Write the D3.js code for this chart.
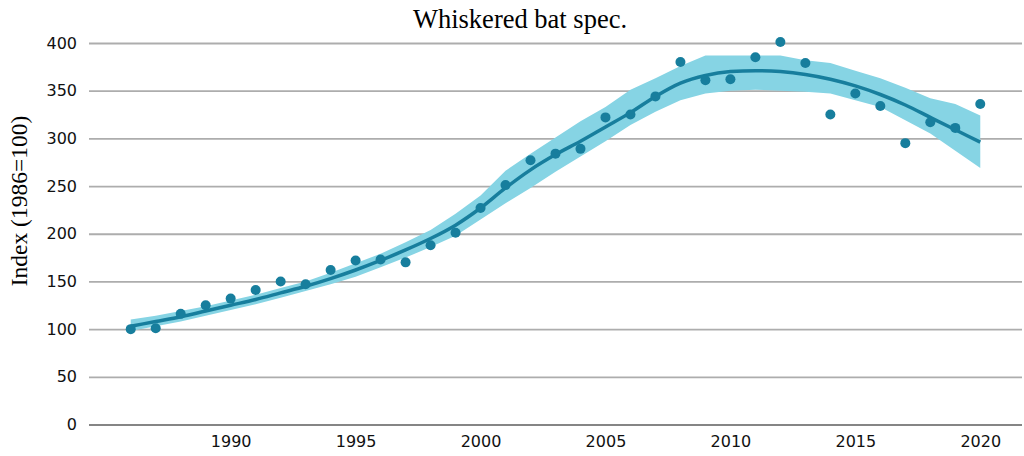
<!DOCTYPE html>
<html>
<head>
<meta charset="utf-8">
<script src="https://cdn.jsdelivr.net/npm/d3@7"></script>
<style>
  body { margin: 0; background: #fff; }
  svg { display: block; }
</style>
</head>
<body>
<div id="chart"></div>
<script>
// observed index per year
const years = d3.range(1986, 2021);
const observed = [100, 101, 116, 125, 132, 141, 150, 147, 162, 172, 173, 170, 188, 201, 227,
  251, 277, 284, 289, 322, 325, 344, 380, 361, 362, 385, 401, 379, 325, 347, 334, 295, 317, 311, 336];
// smoothed trend and its confidence band
const trend = [103, 108, 113, 119, 125, 131, 138, 145, 153, 162, 172, 183, 195, 209, 227,
  248, 267, 283, 297, 312, 327, 344, 358, 366, 370, 371, 370, 367, 362, 355, 346, 335, 322, 309, 296];
const upper = [110, 114, 119, 124, 130, 136, 143, 150, 159, 169, 179, 191, 204, 221, 240,
  266, 284, 301, 318, 333, 351, 363, 376, 387, 387, 387, 387, 382, 379, 371, 363, 353, 342, 336, 324];
const lower = [98, 103, 108, 114, 120, 126, 133, 140, 147, 155, 165, 175, 186, 198, 215,
  232, 248, 265, 281, 297, 314, 328, 340, 347, 350, 351, 350, 349, 347, 340, 333, 319, 305, 287, 269];
const yTicks = [0, 50, 100, 150, 200, 250, 300, 350, 400];
const xTicks = [1990, 1995, 2000, 2005, 2010, 2015, 2020];

const width = 1024, height = 456;
const marginLeft = 89, marginRight = 2, marginTop = 43, marginBottom = 31;

const rows = years.map((yr, i) => ({
  year: yr, obs: observed[i], trend: trend[i], lo: lower[i], hi: upper[i]
}));

const x = d3.scaleLinear()
  .domain([1984.33, 2021.67])
  .range([marginLeft, width - marginRight]);

const y = d3.scaleLinear()
  .domain([0, 400])
  .range([height - marginBottom - 0.5, marginTop]);

const svg = d3.select("#chart").append("svg")
  .attr("width", width)
  .attr("height", height)
  .attr("viewBox", [0, 0, width, height]);

// grid lines + y labels
const yAxis = svg.append("g")
  .attr("transform", `translate(${marginLeft},0)`)
  .call(d3.axisLeft(y).tickValues(yTicks).tickSize(0).tickPadding(12))
  .call(g => g.select(".domain").remove())
  .call(g => g.selectAll(".tick text")
      .attr("font-family", "DejaVu Sans, sans-serif")
      .attr("font-size", 16)
      .attr("fill", "#111"));

yAxis.selectAll(".tick line")
  .attr("x2", width - marginLeft - marginRight)
  .attr("stroke", d => d === 0 ? "#858585" : "#adadad")
  .attr("stroke-width", d => d === 0 ? 2.2 : 1.8);

// x labels
svg.append("g")
  .attr("transform", `translate(0,${y(0)})`)
  .call(d3.axisBottom(x).tickValues(xTicks).tickFormat(d3.format("d")).tickSize(0).tickPadding(11))
  .call(g => g.select(".domain").remove())
  .call(g => g.selectAll(".tick text")
      .attr("font-family", "DejaVu Sans, sans-serif")
      .attr("font-size", 16)
      .attr("fill", "#111"));

// confidence band
const band = d3.area()
  .x(d => x(d.year))
  .y0(d => y(d.lo))
  .y1(d => y(d.hi));

svg.append("path")
  .datum(rows)
  .attr("fill", "#86d4e4")
  .attr("d", band);

// trend line
const line = d3.line()
  .x(d => x(d.year))
  .y(d => y(d.trend))
  .curve(d3.curveMonotoneX);

svg.append("path")
  .datum(rows)
  .attr("fill", "none")
  .attr("stroke", "#177e9d")
  .attr("stroke-width", 3.5)
  .attr("stroke-linejoin", "round")
  .attr("d", line);

// yearly points
svg.append("g")
  .attr("fill", "#177e9d")
  .selectAll("circle")
  .data(rows)
  .join("circle")
  .attr("cx", d => x(d.year))
  .attr("cy", d => y(d.obs))
  .attr("r", 5);

// title
svg.append("text")
  .attr("x", 520)
  .attr("y", 28)
  .attr("text-anchor", "middle")
  .attr("font-family", "Liberation Serif, Times New Roman, serif")
  .attr("font-size", 26.5)
  .attr("fill", "#000")
  .text("Whiskered bat spec.");

// y axis title
svg.append("text")
  .attr("transform", `translate(27,${201}) rotate(-90)`)
  .attr("text-anchor", "middle")
  .attr("font-family", "Liberation Serif, Times New Roman, serif")
  .attr("font-size", 23.5)
  .attr("fill", "#000")
  .text("Index (1986=100)");
</script>
</body>
</html>
